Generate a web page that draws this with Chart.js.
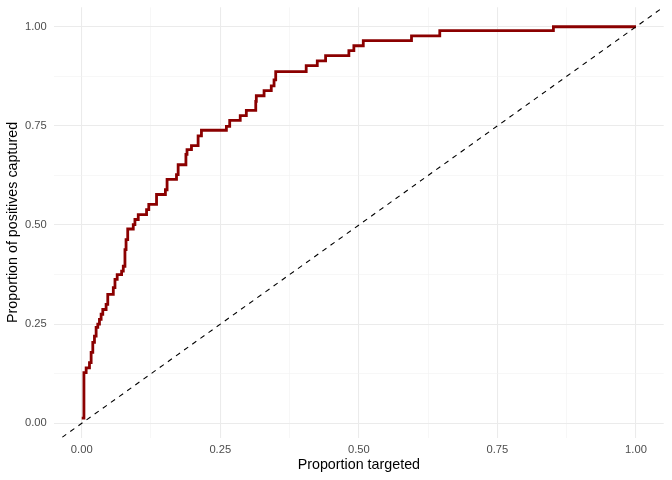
<!DOCTYPE html>
<html>
<head>
<meta charset="utf-8">
<script src="https://cdn.jsdelivr.net/npm/chart.js@4/dist/chart.umd.min.js"></script>
<style>
  html, body { margin: 0; padding: 0; background: #ffffff; }
  #c { display: block; }
</style>
</head>
<body>
<canvas id="c" width="672" height="480"></canvas>
<script>
// Proportion targeted (x at each step) and proportion of positives captured (y after step)
const propTargeted = [
  0.000, 0.004, 0.008, 0.014, 0.017, 0.020, 0.023, 0.026, 0.029, 0.032,
  0.035, 0.038, 0.044, 0.047, 0.057, 0.060, 0.064, 0.072, 0.075, 0.078,
  0.080, 0.083, 0.093, 0.096, 0.102, 0.117, 0.121, 0.135, 0.151, 0.154,
  0.171, 0.174, 0.188, 0.190, 0.198, 0.210, 0.216, 0.261, 0.267, 0.286,
  0.297, 0.314, 0.315, 0.329, 0.342, 0.347, 0.350, 0.405, 0.425, 0.440,
  0.482, 0.491, 0.508, 0.595, 0.646, 0.851, 1.000
];
const propCaptured = [
  0.013, 0.128, 0.140, 0.153, 0.179, 0.204, 0.220, 0.242, 0.250, 0.262,
  0.275, 0.287, 0.300, 0.325, 0.342, 0.363, 0.375, 0.384, 0.396, 0.438,
  0.463, 0.490, 0.501, 0.514, 0.526, 0.539, 0.552, 0.577, 0.589, 0.615,
  0.627, 0.652, 0.678, 0.690, 0.700, 0.725, 0.739, 0.749, 0.764, 0.776,
  0.789, 0.812, 0.826, 0.839, 0.851, 0.866, 0.887, 0.902, 0.914, 0.927,
  0.940, 0.952, 0.965, 0.977, 0.990, 1.000, 1.000
];
// Random-targeting reference line (y = x)
const refX = [-0.05, 1.05];
const refY = [-0.05, 1.05];

const xTicks = [0, 0.25, 0.5, 0.75, 1.0];
const yTicks = [0, 0.25, 0.5, 0.75, 1.0];
const xTitle = 'Proportion targeted';
const yTitle = 'Proportion of positives captured';

const curve = propTargeted.map((x, i) => ({ x: x, y: propCaptured[i] }));
const ref = refX.map((x, i) => ({ x: x, y: refY[i] }));

function withMinor(major) {
  const out = [];
  for (let i = 0; i < major.length; i++) {
    out.push(major[i]);
    if (i < major.length - 1) out.push((major[i] + major[i + 1]) / 2);
  }
  return out;
}
function isMajor(v, major) {
  return major.some(m => Math.abs(m - v) < 1e-9);
}

const FONT = '"Liberation Sans", Arial, Helvetica, sans-serif';

function axis(major, min, max, title, titlePad, tickPad, fitFn) {
  return {
    type: 'linear',
    min: min,
    max: max,
    afterBuildTicks: (s) => { s.ticks = withMinor(major).map(v => ({ value: v })); },
    afterFit: fitFn,
    border: { display: false },
    grid: {
      drawTicks: false,
      color: (c) => isMajor(c.tick.value, major) ? '#EBEBEB' : '#F2F2F2',
      lineWidth: (c) => isMajor(c.tick.value, major) ? 1.07 : 0.6
    },
    ticks: {
      autoSkip: false,
      maxRotation: 0,
      padding: tickPad,
      color: '#4D4D4D',
      font: { family: FONT, size: 11.2 },
      callback: (v) => isMajor(v, major) ? Number(v).toFixed(2) : ''
    },
    title: {
      display: true,
      text: title,
      color: '#000000',
      font: { family: FONT, size: 14.3 },
      padding: titlePad
    }
  };
}

new Chart(document.getElementById('c'), {
  type: 'scatter',
  data: {
    datasets: [
      {
        data: ref,
        showLine: true,
        borderColor: '#000000',
        borderWidth: 1.1,
        borderDash: [5, 5],
        pointRadius: 0,
        fill: false
      },
      {
        data: curve,
        showLine: true,
        stepped: true,
        borderColor: '#8B0000',
        borderWidth: 2.8,
        pointRadius: 0,
        fill: false
      }
    ]
  },
  options: {
    responsive: false,
    animation: false,
    devicePixelRatio: 1,
    layout: { padding: { top: 7.3, right: 8.3, left: 0, bottom: 0 } },
    plugins: { legend: { display: false }, tooltip: { enabled: false } },
    scales: {
      x: axis(xTicks, -0.05, 1.05, xTitle, { top: 0, bottom: 6.4 }, 5.3,
              (s) => { s.height = 42.4; s.paddingLeft = 0; s.paddingRight = 0; }),
      y: axis(yTicks, -0.036, 1.049, yTitle, { top: 4.4, bottom: 0 }, 7.3,
              (s) => { s.width = 54; s.paddingTop = 0; s.paddingBottom = 0; })
    }
  }
});
</script>
</body>
</html>
